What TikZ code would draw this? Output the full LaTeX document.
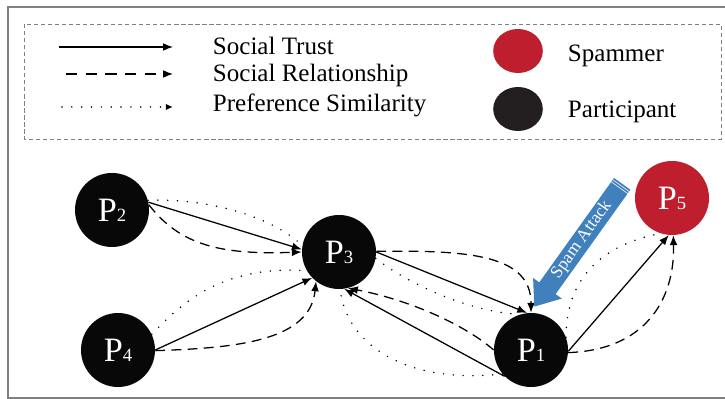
\documentclass[tikz,border=0pt]{standalone}
\usepackage{fontspec}
\setmainfont{Liberation Serif}
\usetikzlibrary{arrows.meta,shapes.arrows,shapes.geometric}

\definecolor{spamred}{RGB}{190,30,45}
\definecolor{attackblue}{RGB}{64,128,188}
\definecolor{peerblack}{RGB}{8,8,8}
\definecolor{keyblack}{RGB}{35,31,32}
\definecolor{framegray}{RGB}{128,128,128}

\def\peerlabel#1{P{\fontsize{13.3}{14}\selectfont #1}}

\begin{document}
\begin{tikzpicture}[x=0.025cm, y=-0.025cm,
	>={Latex[length=7pt,width=5.5pt]},
	peer/.style={circle, fill=peerblack, text=white, minimum size=1.85cm, inner sep=0pt, font=\fontsize{24.3}{26}\selectfont},
	trust/.style={->, line width=0.9pt},
	relation/.style={->, line width=0.9pt, dash pattern=on 7pt off 4.5pt},
	similar/.style={line width=1.2pt, dash pattern=on 0pt off 7pt, line cap=round},
	keytext/.style={anchor=base west, font=\fontsize{17.8}{20}\selectfont}]
	\useasboundingbox (0,0) rectangle (725,399);
	\draw[framegray, line width=1pt] (8,7) rectangle (740,398);
	\draw[framegray, line width=0.7pt, dash pattern=on 3pt off 2pt] (24,24) rectangle (721,139);

	\draw[trust] (59,47) -- (173,47);
	\draw[relation, dash pattern=on 8pt off 6pt] (66,74) -- (173,74);
	\draw[similar, -{Latex[length=5pt,width=4.5pt]}] (62,107) -- (173,107);
	\node[keytext] (trustkey) at (208,55) {Social Trust};
	\node[keytext] (relationkey) at (208,82) {Social Relationship};
	\node[keytext] (similarkey) at (208,112) {Preference Similarity};
	\node[ellipse, fill=spamred, minimum width=1.24cm, minimum height=1.1cm] (spamkey) at (518,51) {};
	\node[ellipse, fill=keyblack, minimum width=1.24cm, minimum height=1.1cm] (peerkey) at (518,109) {};
	\node[keytext] (spamkeytext) at (563,62) {Spammer};
	\node[keytext] (peerkeytext) at (563,118) {Participant};

	\node[peer] (p2) at (112,210) {\peerlabel2};
	\node[peer] (p4) at (118,350) {\peerlabel4};
	\node[peer] (p3) at (339,252) {\peerlabel3};
	\node[peer] (p1) at (531,350) {\peerlabel1};
	\node[peer, fill=spamred] (p5) at (672,198) {\peerlabel5};

	\draw[trust] (p2.12) -- (p3.176);
	\draw[relation] (p2.8) .. controls (180,245) and (220,255) .. (p3.180);
	\draw[similar] (p2.15) .. controls (205,198) and (270,215) .. (p3.170);

	\draw[trust] (p4.0) -- (p3.-136);
	\draw[relation] (p4.-1) .. controls (240,348) and (310,340) .. (p3.-128);
	\draw[similar] (p4.25) .. controls (180,305) and (220,265) .. (p3.-150);

	\draw[trust] (p3.0) -- (p1.96);
	\draw[relation] (p3.1) .. controls (470,250) and (531,255) .. (p1.90);
	\draw[similar] (p3.-10) .. controls (410,285) and (470,312) .. (p1.107);

	\draw[trust] (p1.-135) -- (p3.-82);
	\draw[relation] (p1.180) .. controls (465,325) and (410,300) .. (p3.-76);
	\draw[similar] (p1.-140) .. controls (400,385) and (345,340) .. (p3.-88);

	\draw[trust] (p1.-2) -- (p5.-95);
	\draw[relation] (p1.-4) .. controls (645,350) and (675,300) .. (p5.-88);
	\draw[similar] (p1.20) .. controls (566,280) and (600,245) .. (p5.-108);

	\node[single arrow, shape border rotate=180, rotate=54.4, fill=attackblue, text=white,
		font=\fontsize{12.5}{13}\selectfont, minimum height=3.775cm, text height=8.5pt, text depth=3pt,
		inner ysep=1.2pt, inner xsep=2pt, single arrow head extend=0.19cm, single arrow tip angle=76] (attack) at (582,240) {Spam Attack};
	\foreach \d in {2.5,5}
		\draw[white, line width=0.4pt] ([shift={(125.6:\d)}]attack.before tail) -- ([shift={(125.6:\d)}]attack.after tail);
\end{tikzpicture}
\end{document}
